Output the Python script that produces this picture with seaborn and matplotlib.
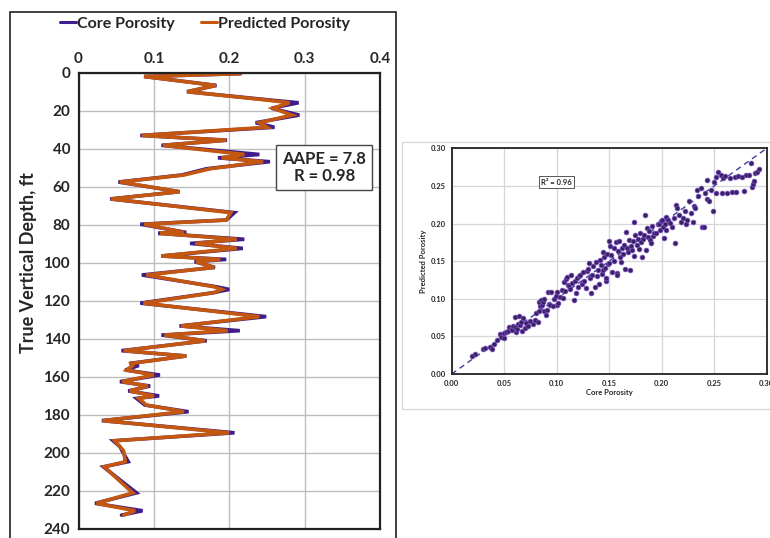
import matplotlib
matplotlib.use("Agg")
import matplotlib.pyplot as plt
from matplotlib.patches import Rectangle
import seaborn as sns
import pandas as pd

# ---- well log: depth vs porosity ----
depth = [0.5, 2, 6.7, 10, 14.4, 15.8, 18.7, 22.3, 26.3, 28.7, 33, 35.5, 38.2, 43, 44.8,
         46.8, 50.5, 53.8, 57.5, 62.6, 66.4, 73.6, 77.5, 79.7, 84, 84.5, 87.6, 89.8, 92.4,
         96.4, 98.2, 99.4, 102.4, 106.4, 112.6, 114, 115.7, 121.2, 128.3, 133.2, 135.7,
         138, 141, 146.2, 149, 152.9, 154, 156.4, 159, 162.5, 164.8, 167.4, 170, 171.3,
         174.8, 178.3, 183, 189.4, 193.6, 196.7, 199, 204.6, 207.3, 221, 226.5, 230.4, 232.7]
core_por = [0.215, 0.087, 0.183, 0.144, 0.255, 0.292, 0.256, 0.293, 0.235, 0.26, 0.082,
            0.197, 0.11, 0.24, 0.185, 0.254, 0.17, 0.137, 0.053, 0.134, 0.042, 0.207, 0.196,
            0.082, 0.143, 0.106, 0.22, 0.148, 0.218, 0.11, 0.196, 0.154, 0.181, 0.084, 0.183,
            0.2, 0.179, 0.082, 0.249, 0.134, 0.214, 0.11, 0.17, 0.057, 0.143, 0.068, 0.08,
            0.062, 0.108, 0.055, 0.095, 0.066, 0.107, 0.077, 0.088, 0.146, 0.031, 0.207,
            0.046, 0.055, 0.058, 0.066, 0.033, 0.077, 0.022, 0.085, 0.057]
pred_por = [0.215, 0.087, 0.182, 0.144, 0.25, 0.28, 0.258, 0.283, 0.24, 0.25, 0.084,
            0.196, 0.112, 0.22, 0.19, 0.245, 0.175, 0.14, 0.055, 0.134, 0.043, 0.202, 0.196,
            0.087, 0.14, 0.108, 0.21, 0.155, 0.21, 0.11, 0.188, 0.156, 0.18, 0.09, 0.18,
            0.19, 0.18, 0.086, 0.24, 0.136, 0.198, 0.114, 0.168, 0.06, 0.143, 0.07, 0.072,
            0.064, 0.1, 0.058, 0.092, 0.068, 0.1, 0.08, 0.09, 0.14, 0.032, 0.2,
            0.048, 0.055, 0.06, 0.062, 0.034, 0.072, 0.024, 0.075, 0.06]
depth_ticks = list(range(0, 241, 20))
por_ticks = [0, 0.1, 0.2, 0.3, 0.4]
por_tick_labels = ["0", "0.1", "0.2", "0.3", "0.4"]
stats_text = "AAPE = 7.8\nR = 0.98"

# ---- cross-plot: core vs predicted porosity ----
xp_core = [0.019, 0.022, 0.030, 0.032, 0.036, 0.038, 0.040, 0.043, 0.046, 0.047, 0.050, 0.050,
           0.052, 0.054, 0.055, 0.056, 0.057, 0.058, 0.060, 0.060, 0.061, 0.062, 0.063, 0.064,
           0.065, 0.066, 0.067, 0.068, 0.070, 0.071, 0.073, 0.075, 0.077, 0.079, 0.080, 0.082,
           0.083, 0.083, 0.084, 0.085, 0.086, 0.087, 0.088, 0.088, 0.090, 0.091, 0.092, 0.093,
           0.094, 0.095, 0.096, 0.097, 0.099,
           0.100, 0.100, 0.101, 0.103, 0.105, 0.106, 0.107, 0.108, 0.109, 0.110, 0.111, 0.112,
           0.113, 0.114, 0.115, 0.116, 0.117, 0.118, 0.119, 0.120, 0.121, 0.122, 0.124, 0.125,
           0.126, 0.128, 0.129, 0.130, 0.131, 0.132, 0.133, 0.134, 0.135, 0.136, 0.137, 0.138,
           0.139, 0.140, 0.141, 0.142, 0.143, 0.144, 0.144, 0.145, 0.146, 0.147, 0.147, 0.148,
           0.149, 0.150, 0.150, 0.151, 0.152, 0.153, 0.155, 0.155, 0.156, 0.157, 0.157, 0.158,
           0.159, 0.160, 0.161, 0.162, 0.163, 0.164, 0.165, 0.166, 0.167, 0.168, 0.169, 0.170,
           0.171, 0.172, 0.173, 0.174, 0.174, 0.175, 0.176, 0.177, 0.178, 0.179, 0.180, 0.181,
           0.182, 0.183, 0.184, 0.185, 0.186, 0.187, 0.188, 0.189, 0.190, 0.191, 0.192, 0.193,
           0.195, 0.196, 0.197, 0.198, 0.199,
           0.200, 0.201, 0.202, 0.203, 0.204, 0.204, 0.206, 0.208, 0.210, 0.212, 0.213, 0.214,
           0.215, 0.216, 0.218, 0.220, 0.222, 0.223, 0.224, 0.226, 0.228, 0.230, 0.231, 0.232,
           0.234, 0.235, 0.237, 0.238, 0.240, 0.241, 0.243, 0.243, 0.245, 0.247, 0.249, 0.250,
           0.252, 0.252, 0.254, 0.256, 0.257, 0.258, 0.260, 0.262, 0.265, 0.267, 0.270, 0.271,
           0.273, 0.276, 0.278, 0.280, 0.283, 0.285, 0.286, 0.287, 0.288, 0.289, 0.291, 0.293]
xp_pred = [0.024, 0.026, 0.033, 0.035, 0.036, 0.033, 0.040, 0.045, 0.053, 0.049, 0.048, 0.055,
           0.056, 0.057, 0.062, 0.060, 0.058, 0.064, 0.063, 0.076, 0.056, 0.060, 0.066, 0.077,
           0.065, 0.069, 0.057, 0.074, 0.061, 0.068, 0.064, 0.071, 0.066, 0.072, 0.081, 0.069,
           0.084, 0.096, 0.090, 0.099, 0.092, 0.096, 0.084, 0.100, 0.078, 0.085, 0.109, 0.093,
           0.092, 0.109, 0.091, 0.100, 0.104,
           0.092, 0.109, 0.094, 0.103, 0.112, 0.101, 0.122, 0.110, 0.126, 0.129, 0.118, 0.117,
           0.113, 0.131, 0.121, 0.098, 0.124, 0.108, 0.127, 0.115, 0.130, 0.132, 0.120, 0.135,
           0.124, 0.114, 0.137, 0.140, 0.148, 0.127, 0.108, 0.131, 0.143, 0.116, 0.149, 0.130,
           0.138, 0.120, 0.152, 0.145, 0.133, 0.162, 0.138, 0.155, 0.141, 0.124, 0.127, 0.160,
           0.146, 0.177, 0.148, 0.170, 0.158, 0.136, 0.167, 0.150, 0.175, 0.134, 0.131, 0.163,
           0.177, 0.155, 0.149, 0.168, 0.160, 0.172, 0.140, 0.189, 0.167, 0.162, 0.178, 0.138,
           0.170, 0.165, 0.177, 0.202, 0.157, 0.185, 0.172, 0.180, 0.166, 0.188, 0.175, 0.156,
           0.179, 0.185, 0.211, 0.165, 0.194, 0.182, 0.190, 0.178, 0.174, 0.197, 0.183, 0.188,
           0.187, 0.200, 0.199, 0.192, 0.203,
           0.205, 0.195, 0.181, 0.199, 0.209, 0.191, 0.205, 0.201, 0.196, 0.208, 0.174, 0.225,
           0.221, 0.211, 0.202, 0.208, 0.216, 0.200, 0.205, 0.230, 0.214, 0.202, 0.223, 0.220,
           0.245, 0.236, 0.247, 0.196, 0.196, 0.240, 0.258, 0.232, 0.230, 0.245, 0.216, 0.255,
           0.262, 0.240, 0.268, 0.265, 0.240, 0.261, 0.263, 0.241, 0.260, 0.242, 0.262, 0.242,
           0.263, 0.262, 0.243, 0.264, 0.265, 0.280, 0.248, 0.252, 0.256, 0.267, 0.268, 0.272]
xp_ticks = [0.0, 0.05, 0.10, 0.15, 0.20, 0.25, 0.30]
r2_text = "R² = 0.96"

CORE_COLOR = "#3f1d8a"
PRED_COLOR = "#c4570f"

sns.set_theme(style="white")
plt.rcParams["font.family"] = ["Lato", "DejaVu Sans"]
plt.rcParams["font.weight"] = "bold"

W, H = 770, 538
fig = plt.figure(figsize=(W / 100, H / 100), dpi=100)
fig.patch.set_facecolor("white")

def fx(px):
    return px / W

def fy(py):
    return 1 - py / H

# ---------- left panel: porosity log ----------
ax = fig.add_axes([fx(78.5), fy(529), fx(380) - fx(78.5), fy(72.7) - fy(529)])
log_df = pd.DataFrame({"depth": depth, "core": core_por, "pred": pred_por})
sns.lineplot(data=log_df, x="core", y="depth", sort=False, estimator=None, ax=ax,
             color=CORE_COLOR, lw=2.6, label="Core Porosity", solid_joinstyle="miter")
sns.lineplot(data=log_df, x="pred", y="depth", sort=False, estimator=None, ax=ax,
             color=PRED_COLOR, lw=2.6, label="Predicted Porosity", solid_joinstyle="miter")
ax.set_xlim(0, 0.4)
ax.set_ylim(240, 0)
ax.xaxis.tick_top()
ax.set_xticks(por_ticks)
ax.set_xticklabels(por_tick_labels)
ax.set_yticks(depth_ticks)
ax.tick_params(axis="x", length=0, labelsize=11, pad=5)
ax.tick_params(axis="y", length=0, labelsize=11, pad=6)
for lab in ax.get_xticklabels() + ax.get_yticklabels():
    lab.set_fontweight("bold")
ax.set_xlabel("")
ax.set_ylabel("True Vertical Depth, ft", fontsize=13, fontweight="bold",
              va="center", ha="center")
ax.yaxis.set_label_coords(-0.166, 0.583)
ax.grid(True, color="#bdbdbd", lw=1.0)
for s in ax.spines.values():
    s.set_color("#222222")
    s.set_linewidth(1.6)
leg = ax.legend(loc="center", bbox_to_anchor=(0.42, 1.107), ncol=2, frameon=False,
                handlelength=1.0, handletextpad=0.1, columnspacing=1.6,
                borderpad=0.0, prop={"weight": "bold", "size": 11.5})
for h in leg.get_lines():
    h.set_linewidth(2.2)
ax.text(0.815, 0.792, stats_text, transform=ax.transAxes, ha="center", va="center",
        fontsize=12, fontweight="bold", linespacing=1.1,
        bbox=dict(boxstyle="square,pad=0.35", fc="white", ec="#444444", lw=1.0))

# panel frames
fig.add_artist(Rectangle((fx(9.5), fy(540)), fx(396) - fx(9.5), fy(12) - fy(540),
                         transform=fig.transFigure, fill=False, ec="#333333", lw=1.3))
fig.add_artist(Rectangle((fx(402), fy(409)), fx(772) - fx(402), fy(142) - fy(409),
                         transform=fig.transFigure, fill=False, ec="#d9d9d9", lw=1.0))

# ---------- right panel: cross-plot ----------
bx = fig.add_axes([fx(451.7), fy(374), fx(766.7) - fx(451.7), fy(148.3) - fy(374)])
xp_df = pd.DataFrame({"core": xp_core, "pred": xp_pred})
bx.plot([0, 0.3], [0, 0.3], ls=(0, (4, 3)), color="#3b3d9c", lw=1.0, zorder=1)
sns.scatterplot(data=xp_df, x="core", y="pred", ax=bx, s=12, color="#3a2163",
                edgecolor="#7a4fc4", linewidth=0.5, zorder=3)
bx.set_xlim(0, 0.3)
bx.set_ylim(0, 0.3)
bx.set_xticks(xp_ticks)
bx.set_yticks(xp_ticks)
bx.set_xticklabels([f"{t:.2f}" for t in xp_ticks])
bx.set_yticklabels([f"{t:.2f}" for t in xp_ticks])
bx.tick_params(axis="both", length=0, labelsize=5.5, pad=4)
for lab in bx.get_xticklabels() + bx.get_yticklabels():
    lab.set_fontweight("bold")
bx.set_xlabel("Core Porosity", fontsize=5.5, fontweight="bold", labelpad=2)
bx.set_ylabel("Predicted Porosity", fontsize=5.5, fontweight="bold", labelpad=3)
bx.grid(True, color="#d6d6d6", lw=0.9)
for s in bx.spines.values():
    s.set_color("#222222")
    s.set_linewidth(1.3)
bx.text(0.1, 0.255, r2_text, ha="center", va="center", fontsize=5.5, fontweight="bold",
        bbox=dict(boxstyle="square,pad=0.3", fc="white", ec="#555555", lw=0.7))

fig.savefig("out.png", dpi=100, facecolor="white")
